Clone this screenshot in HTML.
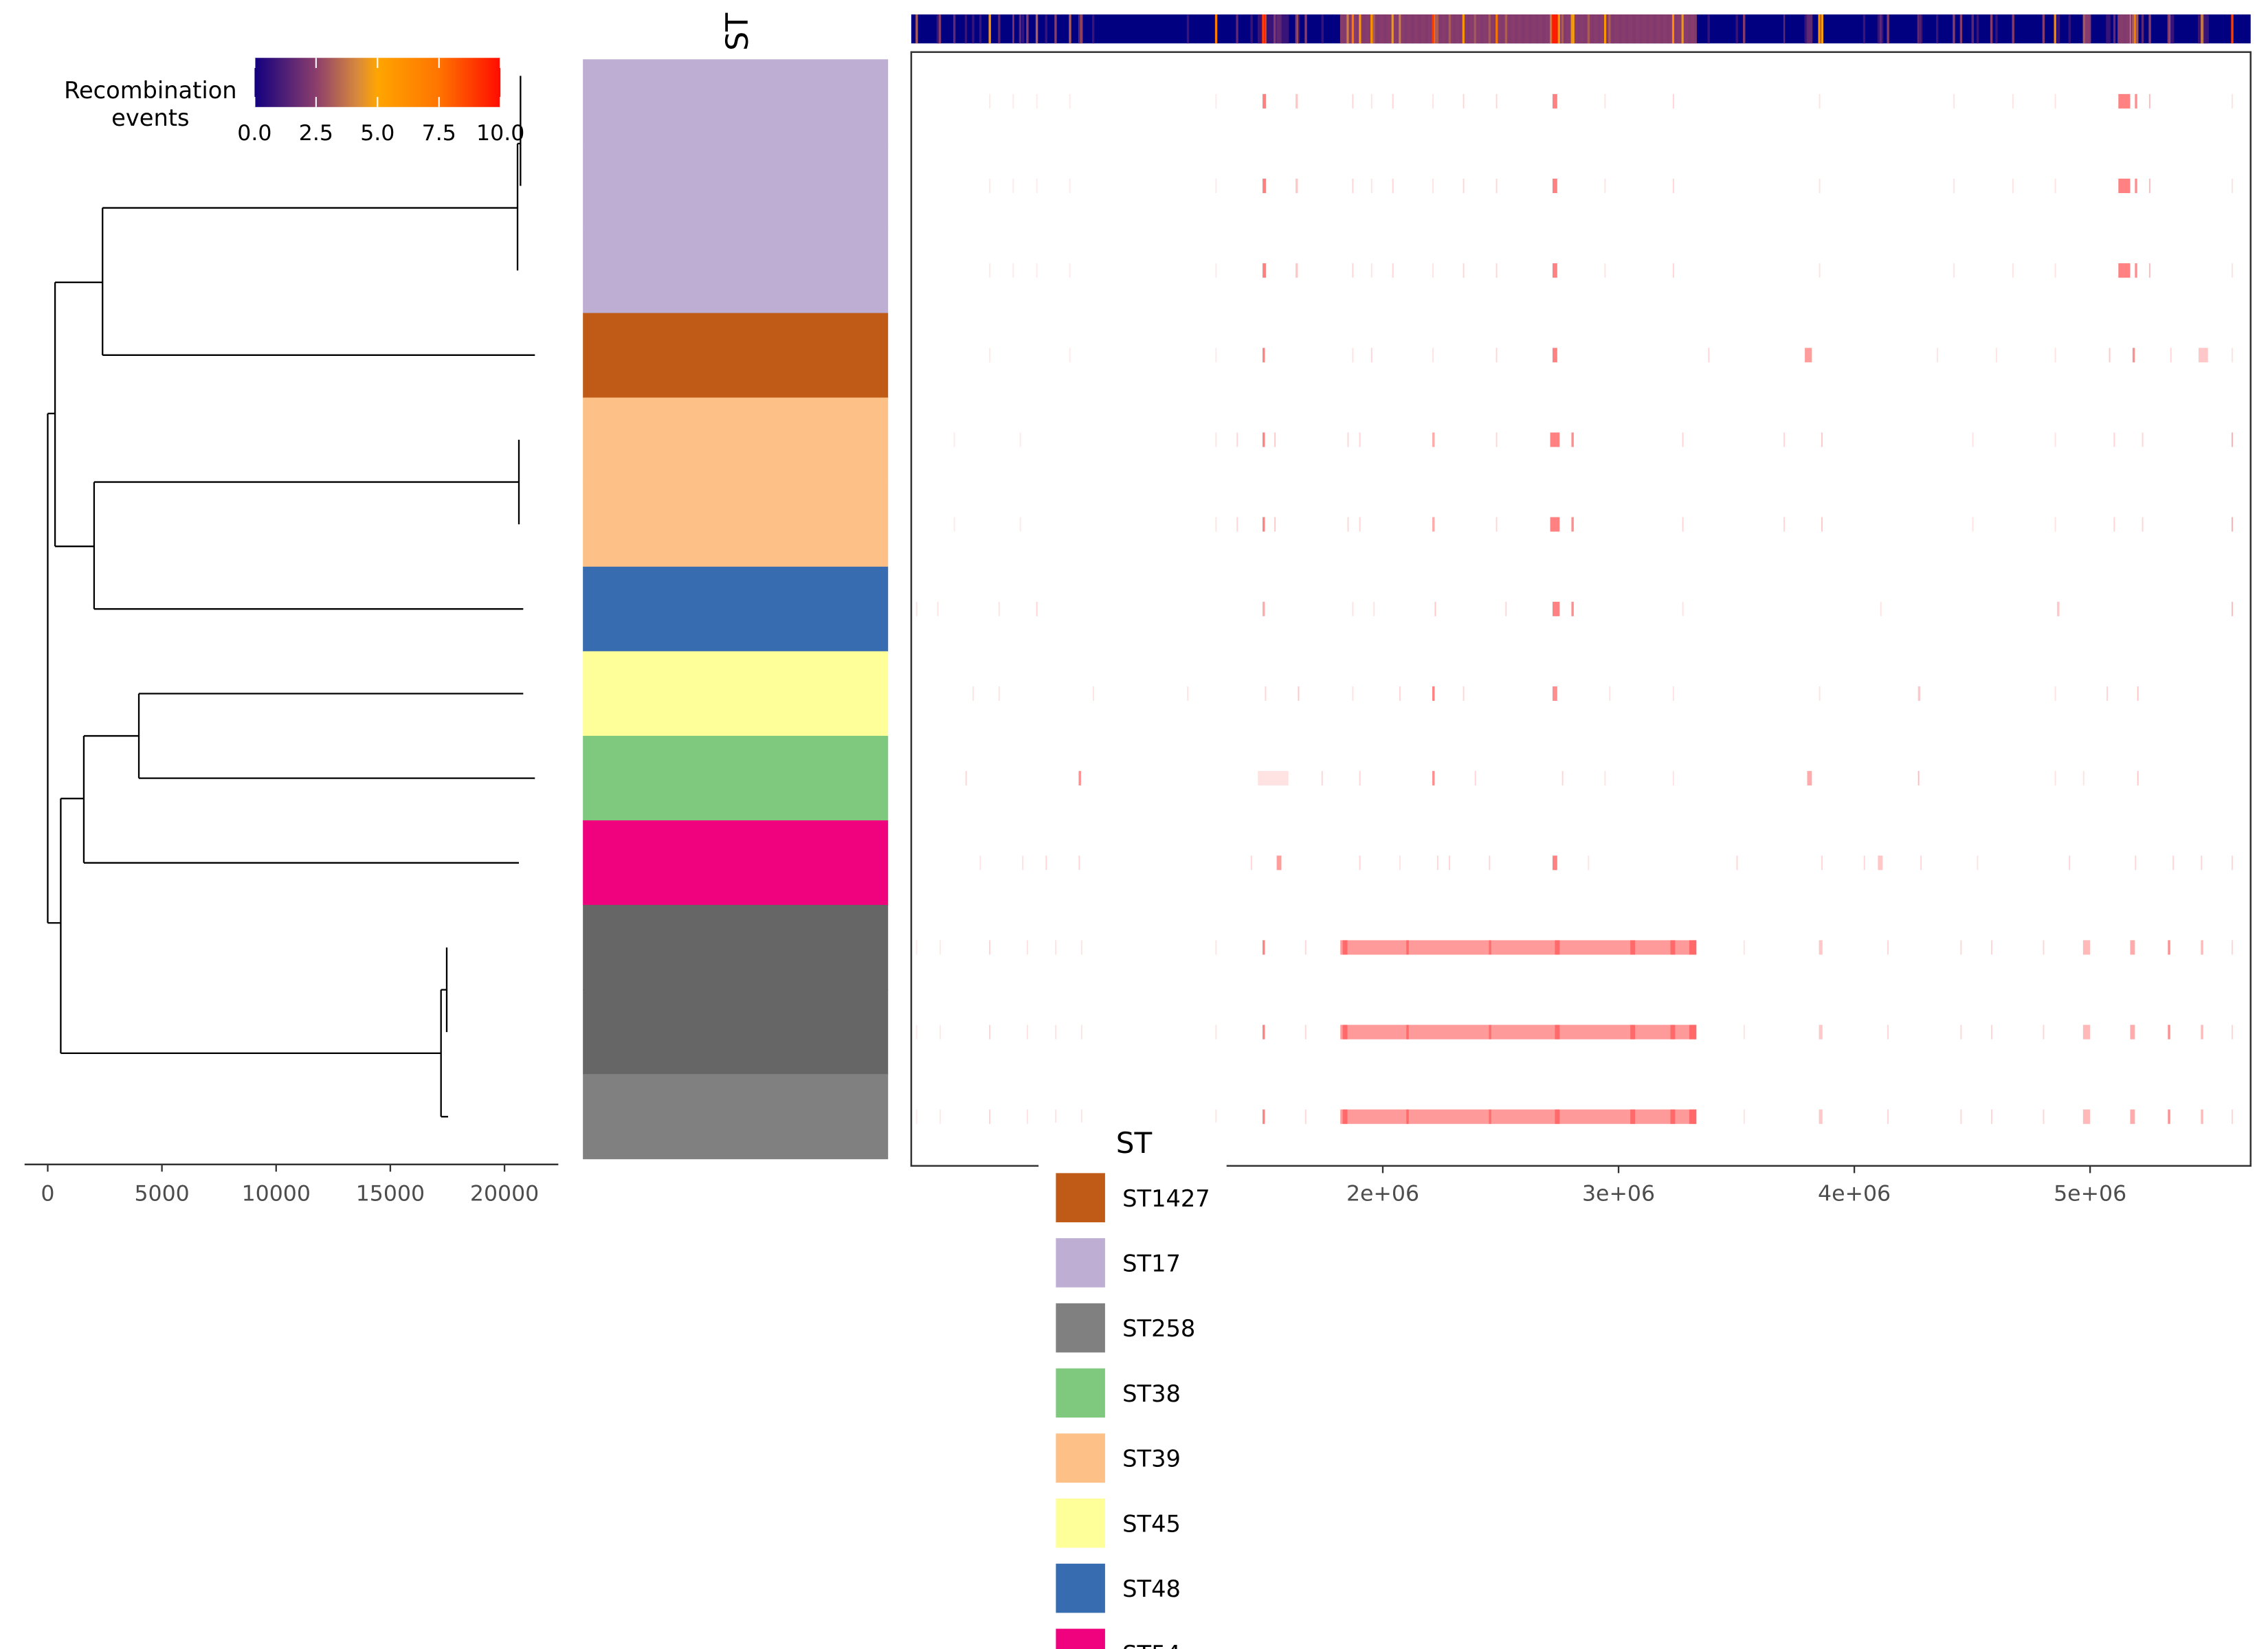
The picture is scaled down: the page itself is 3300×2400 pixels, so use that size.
<!DOCTYPE html>
<html><head><meta charset="utf-8"><style>
html,body{margin:0;padding:0;background:#fff;width:3300px;height:2400px;overflow:hidden}
svg{display:block;font-family:"DejaVu Sans","Liberation Sans",sans-serif}
</style></head><body>
<svg id="chart" width="3300" height="2400" viewBox="0 0 1568 1140" preserveAspectRatio="none" xmlns="http://www.w3.org/2000/svg">
<defs>
<linearGradient id="cbar" x1="0" x2="1" y1="0" y2="0">
<stop offset="0" stop-color="#12007f"/><stop offset="0.25" stop-color="#8c3e6c"/><stop offset="0.42" stop-color="#d98a3c"/><stop offset="0.5" stop-color="#ffa500"/><stop offset="0.75" stop-color="#ff7400"/><stop offset="1" stop-color="#ff0c00"/>
</linearGradient>
</defs>
<g id="dendro"></g>
<g id="dendroAxis"></g>
<g id="stbar"></g>
<text transform="translate(517,22) rotate(-90)" text-anchor="middle" font-size="21" fill="#000">ST</text>
<rect x="630" y="36" width="926" height="770" fill="#fff" stroke="#333" stroke-width="1.2"/>
<g id="topbar"></g>
<g id="marks"></g>
<g id="genAxis"></g>
<g>
<text x="104" y="68" text-anchor="middle" font-size="16">Recombination</text>
<text x="104" y="87" text-anchor="middle" font-size="16">events</text>
<rect x="176" y="40" width="170" height="34" fill="url(#cbar)"/>
<g id="cbticks"></g>
</g>
<g id="stlegend"></g>
</svg>
<script>
const NS='http://www.w3.org/2000/svg';
function mk(tag,attrs,parent){const e=document.createElementNS(NS,tag);for(const k in attrs)e.setAttribute(k,attrs[k]);parent.appendChild(e);return e;}

// ---- data ----
const stCategories=['ST17','ST17','ST17','ST1427','ST39','ST39','ST48','ST45','ST38','ST54','ST258b','ST258b','ST258'];
const stColors={ST1427:'#bf5b17',ST17:'#beaed4',ST258:'#808080',ST258b:'#666666',ST38:'#7fc97f',ST39:'#fdc086',ST45:'#ffff99',ST48:'#386cb0',ST54:'#f0027f'};
const legendLabels=['ST1427','ST17','ST258','ST38','ST39','ST45','ST48','ST54'];
const dendroTicks=[0,5000,10000,15000,20000];
const genomeTicks=[1e6,2e6,3e6,4e6,5e6];
const genomeTickLabels=['1e+06','2e+06','3e+06','4e+06','5e+06'];
const colorbarTicks=[0,2.5,5,7.5,10];
// dendrogram: horizontal [dist0, dist1, row], vertical [dist, row0, row1]
const dendroH=[[20570,20700,0.5],[2400,20570,1.26],[2400,21330,3],[320,2400,2.14],[2030,20630,4.5],[2030,20820,6],[320,2030,5.26],[0,320,3.69],[3990,20820,7],[3990,21330,8],[1580,3990,7.5],[1580,20630,9],[570,1580,8.24],[570,17220,11.25],[17220,17470,10.5],[17220,17530,12],[0,570,9.71]];
const dendroV=[[20700,-0.3,1],[20570,0.5,2],[2400,1.26,3],[320,2.14,5.26],[20630,4,5],[2030,4.5,6],[0,3.69,9.71],[3990,7,8],[1580,7.5,9],[570,8.24,11.25],[17220,10.5,12],[17470,10,11]];
// recombination events per row: [startMb, endMb, strength]
const patA=[[0.33,0.335,0.15],[0.43,0.435,0.15],[0.53,0.535,0.15],[0.67,0.675,0.15],[1.29,1.295,0.15],[1.49,1.505,0.9],[1.63,1.64,0.4],[1.87,1.875,0.3],[1.95,1.955,0.2],[2.04,2.045,0.3],[2.21,2.215,0.2],[2.34,2.345,0.3],[2.48,2.485,0.3],[2.72,2.74,0.9],[2.94,2.945,0.2],[3.23,3.235,0.3],[3.85,3.855,0.2],[4.42,4.425,0.2],[4.67,4.675,0.2],[4.85,4.855,0.2],[5.12,5.17,0.9],[5.19,5.2,0.8],[5.25,5.255,0.5],[5.6,5.605,0.2]];
const row4=[[0.33,0.335,0.15],[0.67,0.675,0.15],[1.29,1.295,0.15],[1.49,1.5,0.9],[1.87,1.875,0.2],[1.95,1.955,0.3],[2.21,2.215,0.2],[2.48,2.485,0.3],[2.72,2.74,0.9],[3.38,3.385,0.3],[3.79,3.82,0.7],[4.35,4.355,0.2],[4.6,4.605,0.2],[4.85,4.855,0.2],[5.08,5.085,0.4],[5.18,5.19,0.8],[5.34,5.345,0.3],[5.46,5.5,0.4],[5.6,5.605,0.2]];
const row56=[[0.18,0.185,0.15],[0.46,0.465,0.15],[1.29,1.295,0.2],[1.38,1.385,0.3],[1.49,1.5,0.9],[1.54,1.545,0.4],[1.85,1.855,0.3],[1.9,1.905,0.3],[2.21,2.22,0.6],[2.48,2.485,0.3],[2.71,2.75,0.9],[2.8,2.81,0.8],[3.27,3.275,0.3],[3.7,3.705,0.3],[3.86,3.865,0.4],[4.5,4.505,0.2],[4.85,4.855,0.2],[5.1,5.105,0.3],[5.22,5.225,0.3],[5.6,5.605,0.6]];
const row7=[[0.02,0.025,0.2],[0.11,0.115,0.2],[0.37,0.375,0.2],[0.53,0.535,0.3],[1.49,1.5,0.6],[1.87,1.875,0.2],[1.96,1.965,0.2],[2.22,2.225,0.4],[2.52,2.525,0.3],[2.72,2.75,0.9],[2.8,2.81,0.8],[3.27,3.275,0.2],[4.11,4.115,0.2],[4.86,4.87,0.4],[5.6,5.605,0.5]];
const row8=[[0.26,0.265,0.2],[0.37,0.375,0.2],[0.77,0.775,0.2],[1.17,1.175,0.2],[1.5,1.505,0.3],[1.64,1.645,0.4],[1.87,1.875,0.2],[2.07,2.075,0.3],[2.21,2.22,0.9],[2.34,2.345,0.3],[2.72,2.74,0.8],[2.96,2.965,0.2],[3.23,3.235,0.2],[3.85,3.855,0.2],[4.27,4.28,0.4],[4.85,4.855,0.2],[5.07,5.075,0.3],[5.2,5.205,0.4]];
const row9=[[0.23,0.235,0.3],[0.71,0.72,0.8],[1.47,1.6,0.2],[1.74,1.745,0.3],[1.9,1.905,0.3],[2.21,2.22,0.8],[2.39,2.395,0.3],[2.76,2.765,0.3],[2.94,2.945,0.2],[3.23,3.235,0.2],[3.8,3.82,0.6],[4.27,4.275,0.5],[4.85,4.855,0.2],[4.97,4.975,0.2],[5.2,5.205,0.4]];
const row10=[[0.29,0.295,0.2],[0.47,0.475,0.2],[0.57,0.575,0.3],[0.71,0.715,0.3],[1.44,1.445,0.3],[1.55,1.57,0.7],[1.9,1.905,0.3],[2.07,2.075,0.2],[2.23,2.235,0.3],[2.28,2.285,0.3],[2.45,2.455,0.3],[2.72,2.74,0.9],[2.87,2.875,0.2],[3.5,3.505,0.3],[3.86,3.865,0.3],[4.04,4.045,0.3],[4.1,4.12,0.4],[4.28,4.285,0.3],[4.52,4.525,0.2],[4.91,4.915,0.3],[5.19,5.195,0.3],[5.35,5.355,0.3],[5.47,5.475,0.3],[5.6,5.605,0.3]];
const row11=[[0.02,0.025,0.15],[0.12,0.125,0.15],[0.33,0.335,0.3],[0.49,0.495,0.2],[0.61,0.615,0.2],[0.72,0.725,0.2],[1.29,1.295,0.2],[1.49,1.5,0.9],[1.67,1.675,0.3],[1.82,3.33,0.72],[1.83,1.85,0.9],[2.1,2.11,0.9],[2.45,2.46,0.8],[2.73,2.75,0.9],[3.05,3.07,0.9],[3.22,3.24,0.9],[3.3,3.33,0.9],[3.53,3.535,0.2],[3.85,3.865,0.4],[4.14,4.145,0.3],[4.45,4.455,0.3],[4.58,4.585,0.3],[4.8,4.805,0.3],[4.97,5.0,0.5],[5.17,5.19,0.6],[5.33,5.34,0.8],[5.47,5.48,0.5],[5.6,5.605,0.3]];
const rowEvents=[patA,patA,patA,row4,row56,row56,row7,row8,row9,row10,row11,row11,row11];

// ---- scales ----
const dX=v=>33+v*0.01579;
const rowY=r=>70+r*58.5;
const gX=mb=>630+mb*163;
const cbX=v=>176+v*17;

const dendro=document.getElementById('dendro');
dendroH.forEach(h=>{const l=mk('line',{x1:dX(h[0]),x2:dX(h[1]),y1:rowY(h[2]),y2:rowY(h[2]),stroke:'#000','stroke-width':1.1},dendro);

});
dendroV.forEach(v=>{const l=mk('line',{x1:dX(v[0]),x2:dX(v[0]),y1:rowY(v[1]),y2:rowY(v[2]),stroke:'#000','stroke-width':1.1},dendro);

});

const da=document.getElementById('dendroAxis');
mk('line',{x1:17,x2:386,y1:805,y2:805,stroke:'#333','stroke-width':1.2},da);
dendroTicks.forEach(t=>{mk('line',{x1:dX(t),x2:dX(t),y1:805,y2:810,stroke:'#333','stroke-width':1.1},da);
const tx=mk('text',{x:dX(t),y:830,'text-anchor':'middle','font-size':15,fill:'#4d4d4d'},da);tx.textContent=t;

});

const sb=document.getElementById('stbar');
stCategories.forEach((c,i)=>{const r=mk('rect',{x:403,y:41+i*58.46,width:211,height:58.9,fill:stColors[c]},sb);

});

const mg=document.getElementById('marks');
rowEvents.forEach((evs,i)=>{const yc=rowY(i);evs.forEach(e=>{
const w=Math.max(0.9,gX(e[1])-gX(e[0]));
const r=mk('rect',{x:gX(e[0]),y:yc-5,width:w,height:10,fill:'#ff5a5a','fill-opacity':e[2]*0.85},mg);

});});

// top density bar computed from events (one count per covering row)
const tb=document.getElementById('topbar');
const stops=[[0,[18,0,127]],[2.5,[140,62,108]],[4.2,[217,138,60]],[5,[255,165,0]],[7.5,[255,116,0]],[10,[255,12,0]]];
function cmap(v){v=Math.min(10,Math.max(0,v));for(let k=1;k<stops.length;k++){if(v<=stops[k][0]){const a=stops[k-1],b=stops[k];const t=(v-a[0])/(b[0]-a[0]);return 'rgb('+a[1].map((c,j)=>Math.round(c+(b[1][j]-c)*t)).join(',')+')';}}return 'rgb(255,12,0)';}
const bg=mk('rect',{x:630,y:10,width:926,height:20,fill:'#000080'},tb);


for(let px=630;px<1556;px+=0.5){const mb=(px+0.25-630)/163;let cnt=0;
rowEvents.forEach(evs=>{if(evs.some(e=>mb>=e[0]-0.002&&mb<=e[1]+0.002))cnt+=1;});
if(cnt>0){const r=mk('rect',{x:px,y:10,width:0.6,height:20,fill:cmap(cnt*0.8)},tb);

}}

const ga=document.getElementById('genAxis');
genomeTicks.forEach((t,i)=>{const x=gX(t/1e6);mk('line',{x1:x,x2:x,y1:806,y2:811,stroke:'#333','stroke-width':1.1},ga);
const tx=mk('text',{x:x,y:830,'text-anchor':'middle','font-size':15,fill:'#4d4d4d'},ga);tx.textContent=genomeTickLabels[i];

});

const cbt=document.getElementById('cbticks');
colorbarTicks.forEach(t=>{mk('line',{x1:cbX(t),x2:cbX(t),y1:40,y2:47,stroke:'#fff','stroke-width':1},cbt);mk('line',{x1:cbX(t),x2:cbX(t),y1:67,y2:74,stroke:'#fff','stroke-width':1},cbt);
const tx=mk('text',{x:cbX(t),y:97,'text-anchor':'middle','font-size':15,fill:'#000'},cbt);tx.textContent=t.toFixed(1);

});

const lg=document.getElementById('stlegend');
mk('rect',{x:718,y:776,width:130,height:370,fill:'#fff'},lg);
const lt=mk('text',{x:784,y:797,'text-anchor':'middle','font-size':20},lg);lt.textContent='ST';


legendLabels.forEach((l,i)=>{const y=811+i*45;
const r=mk('rect',{x:730,y:y,width:34,height:34,fill:stColors[l]},lg);


const t=mk('text',{x:776,y:y+23,'font-size':16},lg);t.textContent=l;

});
</script>
</body></html>
